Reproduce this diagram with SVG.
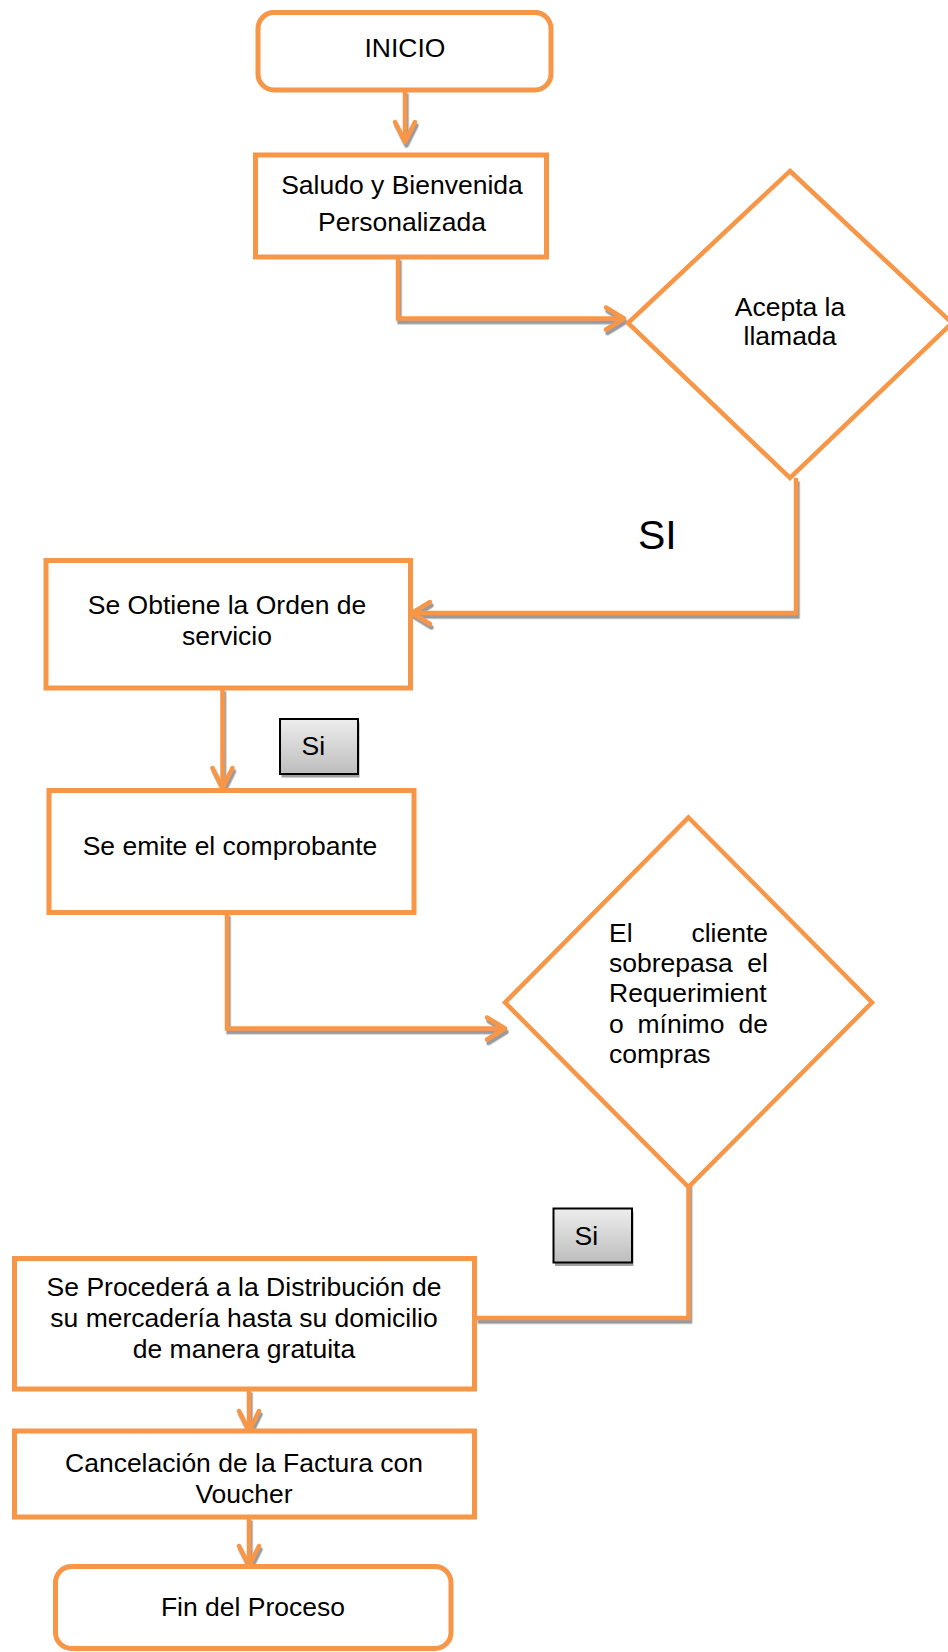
<svg xmlns="http://www.w3.org/2000/svg" width="948" height="1652" viewBox="0 0 948 1652">
<style>
.box{fill:#fff;stroke:#F79646;stroke-width:5}
.dia{fill:#fff;stroke:#F79646;stroke-width:4.5;stroke-linejoin:miter}
.t{font-family:"Liberation Sans",Arial,sans-serif;font-size:26.5px;fill:#000}
.c{text-anchor:middle}
.ln{fill:none;stroke:#F79646;stroke-width:4.5;stroke-linejoin:miter}
.ah{fill:none;stroke:#F79646;stroke-width:4.5;stroke-linecap:round;stroke-linejoin:round}
.btn{fill:url(#g);stroke:#000;stroke-width:2}
.sh{fill:#A0A0A0}
</style>
<defs>
<linearGradient id="g" x1="0" y1="0" x2="0" y2="1">
<stop offset="0" stop-color="#EDEDED"/>
<stop offset="1" stop-color="#BDBDBD"/>
</linearGradient>
<filter id="ds" x="-10%" y="-10%" width="120%" height="120%">
<feDropShadow dx="1.5" dy="3.5" stdDeviation="0.4" flood-color="#9A9A9A" flood-opacity="1"/>
</filter>
</defs>

<g id="connectors" filter="url(#ds)">
<path class="ln" d="M405,90 V141"/>
<polyline class="ah" points="395,122 405,142 415,122"/>
<path class="ln" d="M398,257 V318.5 H622"/>
<polyline class="ah" points="606,307.5 624,318.5 606,329.5"/>
<path class="ln" d="M796,478 V613 H414"/>
<polyline class="ah" points="430,602 412,613 430,624"/>
<path class="ln" d="M222.5,688 V786"/>
<polyline class="ah" points="212.5,768 222.5,788 232.5,768"/>
<path class="ln" d="M227,912.5 V1028.5 H503"/>
<polyline class="ah" points="487,1017.5 505,1028.5 487,1039.5"/>
<path class="ln" d="M688.5,1170 V1318 H476"/>
<path class="ln" d="M249,1389 V1429"/>
<polyline class="ah" points="239,1411 249,1431 259,1411"/>
<path class="ln" d="M249,1517 V1564"/>
<polyline class="ah" points="239,1546 249,1566 259,1546"/>
</g>

<g id="inicio">
<rect class="box" x="258" y="12.5" width="293" height="77.5" rx="16"/>
<text class="t c" x="405" y="57">INICIO</text>
</g>

<g id="saludo">
<rect class="box" x="255.5" y="155" width="291" height="102"/>
<text class="t c" x="402" y="194">Saludo y Bienvenida</text>
<text class="t c" x="402" y="231">Personalizada</text>
</g>

<g id="acepta">
<polygon class="dia" points="790,171 952,323 790,478 628,323"/>
<text class="t c" x="790" y="316">Acepta la</text>
<text class="t c" x="790" y="345">llamada</text>
</g>

<g id="label-si">
<text class="t" x="638" y="549" style="font-size:41px">SI</text>
</g>

<g id="orden">
<rect class="box" x="46" y="560.5" width="364.5" height="127.5"/>
<text class="t c" x="227" y="614">Se Obtiene la Orden de</text>
<text class="t c" x="227" y="645">servicio</text>
</g>

<g id="si1">
<rect class="sh" x="281.5" y="722.5" width="78" height="55"/>
<rect class="btn" x="280" y="719" width="78" height="55"/>
<text class="t" x="301.5" y="755">Si</text>
</g>

<g id="comprobante">
<rect class="box" x="49" y="790.5" width="365" height="122"/>
<text class="t c" x="230" y="855">Se emite el comprobante</text>
</g>

<g id="cliente">
<polygon class="dia" points="688.5,817.5 872,1002.5 688.5,1187 505,1002.5"/>
<text class="t" y="942"><tspan x="609">El</tspan><tspan x="768" text-anchor="end">cliente</tspan></text>
<text class="t" y="972"><tspan x="609">sobrepasa</tspan><tspan x="768" text-anchor="end">el</tspan></text>
<text class="t" x="609" y="1002">Requerimient</text>
<text class="t" y="1033"><tspan x="609">o</tspan><tspan x="681" text-anchor="middle">mínimo</tspan><tspan x="768" text-anchor="end">de</tspan></text>
<text class="t" x="609" y="1063">compras</text>
</g>

<g id="si2">
<rect class="sh" x="555" y="1212" width="78.5" height="54"/>
<rect class="btn" x="553.5" y="1208.5" width="78.5" height="54"/>
<text class="t" x="574.5" y="1245">Si</text>
</g>

<g id="distribucion">
<rect class="box" x="14.5" y="1258.5" width="460" height="130.5"/>
<text class="t c" x="244" y="1296">Se Procederá a la Distribución de</text>
<text class="t c" x="244" y="1327">su mercadería hasta su domicilio</text>
<text class="t c" x="244" y="1358">de manera gratuita</text>
</g>

<g id="cancelacion">
<rect class="box" x="14.5" y="1431" width="460" height="86"/>
<text class="t c" x="244" y="1472">Cancelación de la Factura con</text>
<text class="t c" x="244" y="1503">Voucher</text>
</g>

<g id="fin">
<rect class="box" x="55.5" y="1566.5" width="395.5" height="82" rx="16"/>
<text class="t c" x="253" y="1616">Fin del Proceso</text>
</g>
</svg>
